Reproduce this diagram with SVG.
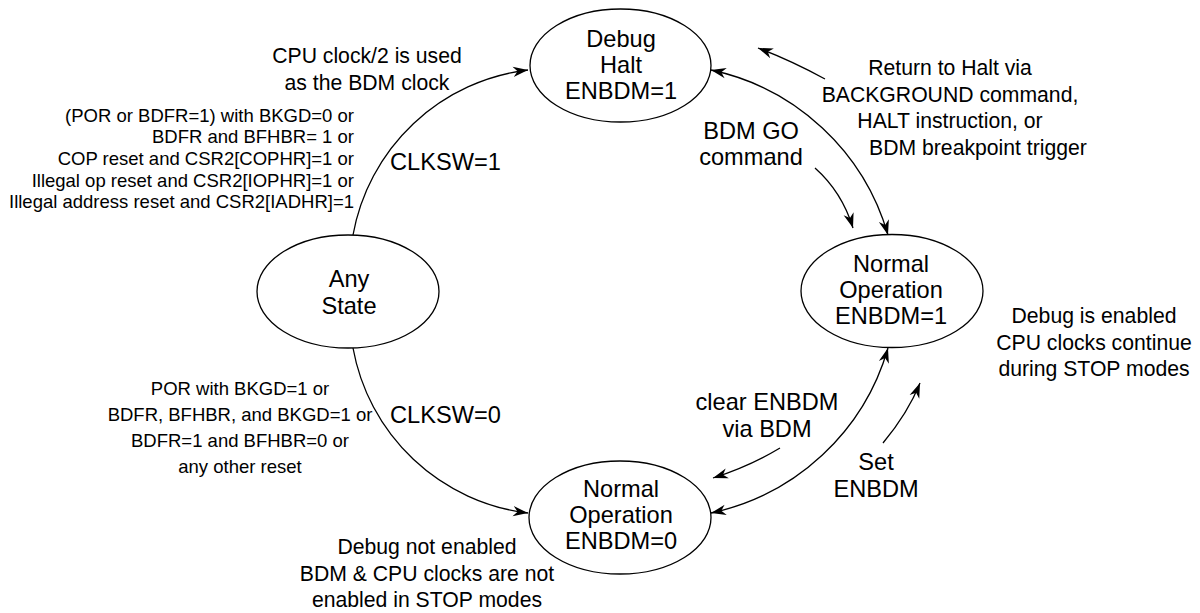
<svg xmlns="http://www.w3.org/2000/svg" width="1200" height="613" viewBox="0 0 1200 613">
<style>
text{font-family:"Liberation Sans",Arial,Helvetica,sans-serif;fill:#000}
.n{font-size:23.6px;text-anchor:middle}
.l{font-size:21.2px;text-anchor:middle}
.s{font-size:18.5px}
.big{font-size:23.6px}
ellipse{fill:#fff;stroke:#000;stroke-width:1.3}
.c{fill:none;stroke:#000;stroke-width:1.3}
</style>
<defs>
<marker id="ah" viewBox="-15 -6 16 12" refX="0" refY="0" markerWidth="16" markerHeight="12" markerUnits="userSpaceOnUse" orient="auto-start-reverse">
<path d="M0,0 L-15,-5.2 L-10.5,0 L-15,5.2 Z" fill="#000"/>
</marker>
</defs>
<rect width="1200" height="613" fill="#fff"/>
<g id="connectors">
<path class="c" d="M353,235 A202.5,202.5 0 0 1 528,70" marker-end="url(#ah)"/>
<path class="c" d="M353,348 A202.5,202.5 0 0 0 528,513" marker-end="url(#ah)"/>
<path class="c" d="M711,70 A235,235 0 0 1 888,235" marker-start="url(#ah)" marker-end="url(#ah)"/>
<path class="c" d="M711,513 A235,235 0 0 0 888,348" marker-start="url(#ah)" marker-end="url(#ah)"/>
<path class="c" d="M815,168 Q842,192 853,228" marker-end="url(#ah)"/>
<path class="c" d="M825,79 Q790,60 758,48" marker-end="url(#ah)"/>
<path class="c" d="M780,448 Q750,466 713,478" marker-end="url(#ah)"/>
<path class="c" d="M883,443 Q908,413 920,383" marker-end="url(#ah)"/>
</g>
<g id="debug-halt">
<ellipse cx="620.5" cy="65.5" rx="90.5" ry="56.5"/>
<text class="n" x="621" y="47">Debug</text>
<text class="n" x="621" y="73">Halt</text>
<text class="n" x="621" y="99">ENBDM=1</text>
</g>
<g id="any-state">
<ellipse cx="348" cy="291.5" rx="91" ry="56.5"/>
<text class="n" x="349" y="287">Any</text>
<text class="n" x="349" y="314">State</text>
</g>
<g id="normal-1">
<ellipse cx="892" cy="291" rx="91" ry="56.5"/>
<text class="n" x="891" y="272">Normal</text>
<text class="n" x="891" y="298">Operation</text>
<text class="n" x="891" y="324">ENBDM=1</text>
</g>
<g id="normal-0">
<ellipse cx="620" cy="517.5" rx="91" ry="56.5"/>
<text class="n" x="621" y="497">Normal</text>
<text class="n" x="621" y="523">Operation</text>
<text class="n" x="621" y="549">ENBDM=0</text>
</g>
<g id="labels">
<text class="l" x="367" y="63">CPU clock/2 is used</text>
<text class="l" x="367" y="90">as the BDM clock</text>
<g class="s" text-anchor="end">
<text x="354" y="122">(POR or BDFR=1) with BKGD=0 or</text>
<text x="354" y="143">BDFR and BFHBR= 1 or</text>
<text x="354" y="165">COP reset and CSR2[COPHR]=1 or</text>
<text x="354" y="187">Illegal op reset and CSR2[IOPHR]=1 or</text>
<text x="354" y="208">Illegal address reset and CSR2[IADHR]=1</text>
</g>
<text class="big" x="390" y="170">CLKSW=1</text>
<text class="big" x="390" y="423">CLKSW=0</text>
<g class="s" text-anchor="middle">
<text x="240" y="395">POR with BKGD=1 or</text>
<text x="240" y="421">BDFR, BFHBR, and BKGD=1 or</text>
<text x="240" y="447">BDFR=1 and BFHBR=0 or</text>
<text x="240" y="473">any other reset</text>
</g>
<text class="l" x="427" y="554">Debug not enabled</text>
<text class="l" x="427" y="581">BDM &amp; CPU clocks are not</text>
<text class="l" x="427" y="607">enabled in STOP modes</text>
<text class="n" x="751" y="139">BDM GO</text>
<text class="n" x="751" y="165">command</text>
<text class="l" x="950" y="75">Return to Halt via</text>
<text class="l" x="950" y="102">BACKGROUND command,</text>
<text class="l" x="950" y="128">HALT instruction, or</text>
<text class="l" x="978" y="155">BDM breakpoint trigger</text>
<text class="l" x="1094" y="323">Debug is enabled</text>
<text class="l" x="1094" y="350">CPU clocks continue</text>
<text class="l" x="1094" y="376">during STOP modes</text>
<text class="n" x="767" y="410">clear ENBDM</text>
<text class="n" x="767" y="437">via BDM</text>
<text class="n" x="876" y="470">Set</text>
<text class="n" x="876" y="497">ENBDM</text>
</g>
</svg>
